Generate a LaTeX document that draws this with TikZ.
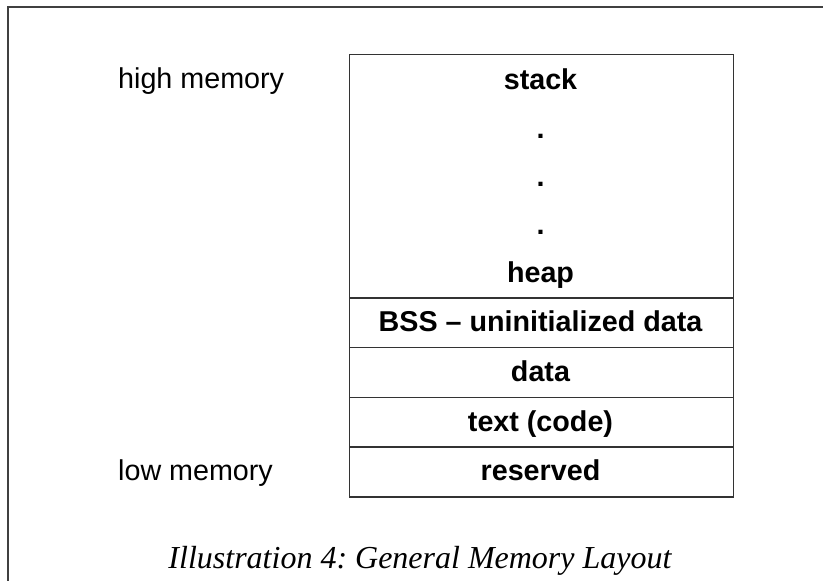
\documentclass[tikz,border=0pt]{standalone}
\usepackage{fontspec}
\setmainfont{Liberation Serif}
\newfontfamily\labelsans{Liberation Sans}
\frenchspacing
\begin{document}
\begin{tikzpicture}[x=1pt,y=-1pt,
  framecol/.style={draw=black!75, line width=1.4pt},
  cell/.style={draw=black!80, line width=1.6pt, rectangle, inner sep=0pt, anchor=north west, minimum width=384pt},
  celltext/.style={inner sep=0pt, anchor=base, font=\labelsans\bfseries\fontsize{28.7}{34}\selectfont, text=black},
  sidetext/.style={inner sep=0pt, anchor=base west, font=\labelsans\fontsize{28.7}{34}\selectfont, text=black},
  captext/.style={inner sep=0pt, anchor=base, font=\itshape\fontsize{32}{38}\selectfont, text=black}]
\useasboundingbox (0,0) rectangle (823,581);
\begin{scope}
\clip (0,0) rectangle (823,581);
\fill[white] (0,0) rectangle (823,581);
\draw[framecol] (8,600) -- (8,7) -- (840,7);
\end{scope}
% cells
\node[cell, minimum height=243.5pt] (top) at (348.5,53.5) {};
\node[cell, minimum height=49.75pt] (bss) at (348.5,297) {};
\node[cell, minimum height=49.75pt] (dat) at (348.5,346.75) {};
\node[cell, minimum height=49.75pt] (txt) at (348.5,396.5) {};
\node[cell, minimum height=49.75pt] (res) at (348.5,446.25) {};
% texts in cells
\node[celltext] (stack) at (540.5,89.5) {stack};
\node[celltext] (d1) at (540.5,138) {.};
\node[celltext] (d2) at (540.5,186) {.};
\node[celltext] (d3) at (540.5,234.5) {.};
\node[celltext] (heap) at (540.5,282) {heap};
\node[celltext] (bsst) at (540.5,331.7) {BSS – uninitialized data};
\node[celltext] (datt) at (540.5,381) {data};
\node[celltext] (txtt) at (540.5,431) {text (code)};
\node[celltext] (rest) at (540.5,480.5) {reserved};
% side labels
\node[sidetext] (high) at (118,88) {high memory};
\node[sidetext] (low) at (118,480.5) {low memory};
% caption
\node[captext] (cap) at (420,568.5) {Illustration 4: General Memory Layout};
\end{tikzpicture}
\end{document}
